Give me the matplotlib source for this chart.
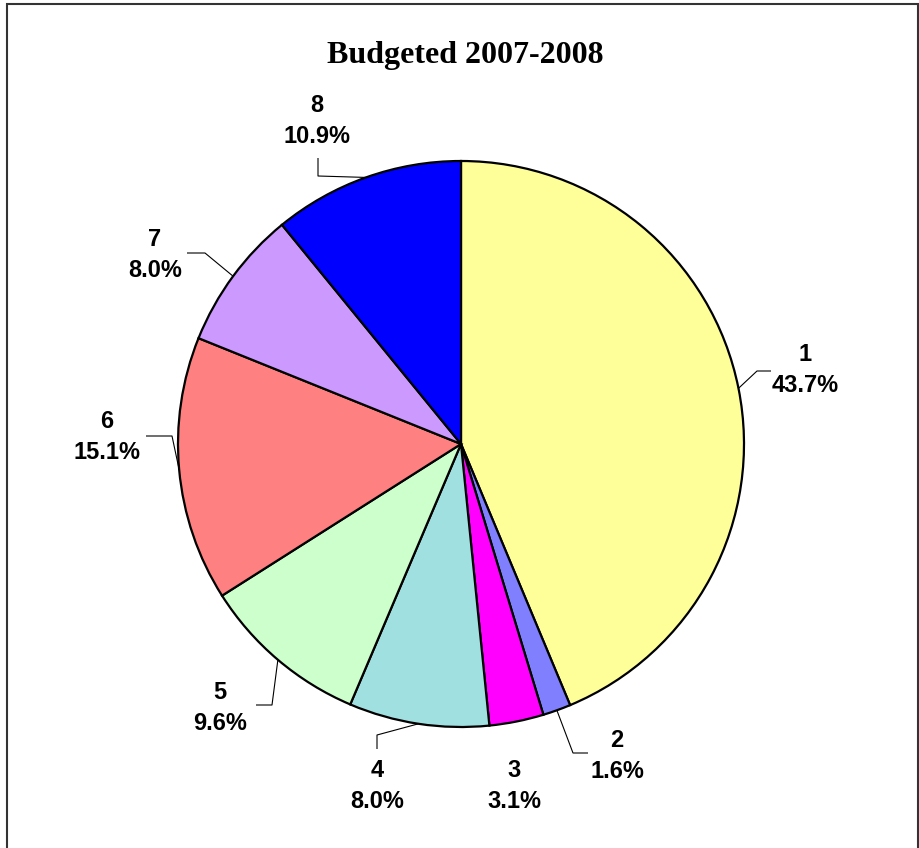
import numpy as np
import matplotlib
matplotlib.use("Agg")
import matplotlib.pyplot as plt
from matplotlib.patches import Rectangle

# data
labels = ["1", "2", "3", "4", "5", "6", "7", "8"]
shares = [43.7, 1.6, 3.1, 8.0, 9.6, 15.1, 8.0, 10.9]
colors = ["#FFFF99", "#8080FF", "#FF00FF", "#A0E0E0",
          "#CCFFCC", "#FF8080", "#CC99FF", "#0000FF"]
title = "Budgeted 2007-2008"

# layout (pixel positions in the 920x848 picture)
W, H = 920, 848
cx, cy, R = 461, 444, 283
text_pos = [(805, 370), (617, 756), (514, 786), (377, 786),
            (220, 708), (107, 437), (155, 255), (317, 121)]
# leader elbows and ends (None = no leader)
leaders = [((757, 371), (771, 371)),
           ((573, 753), (588, 753)),
           None,
           ((377, 735), (377, 749)),
           ((272, 705), (256, 705)),
           ((172, 436), (146, 436)),
           ((205, 253), (187, 253)),
           ((318, 176), (318, 158))]


def px(x, y):
    return (x - cx) / R, (cy - y) / R


fig = plt.figure(figsize=(W / 100, H / 100), dpi=100)
ax = fig.add_axes([0, 0, 1, 1])

wedges, _ = ax.pie(shares, colors=colors, startangle=90, counterclock=False,
                   radius=1.0, center=(0, 0),
                   wedgeprops=dict(edgecolor="black", linewidth=1.6))
ax.set_aspect("auto")
ax.set_xlim(-cx / R, (W - cx) / R)
ax.set_ylim((cy - H) / R, cy / R)
ax.axis("off")

for w, lab, val, tp, ld in zip(wedges, labels, shares, text_pos, leaders):
    ang = np.deg2rad((w.theta1 + w.theta2) / 2)
    ex, ey = np.cos(ang), np.sin(ang)
    if ld is not None:
        (bx, by), (dx, dy) = px(*ld[0]), px(*ld[1])
        ax.plot([ex, bx, dx], [ey, by, dy], color="black", lw=0.8,
                solid_capstyle="butt", zorder=1)
    tx, ty = px(*tp)
    ax.text(tx, ty, f"{lab}\n{val:.1f}%", ha="center", va="center",
            fontsize=17, fontweight="bold", family="Liberation Sans",
            linespacing=1.4)

fig.text(465 / W, 1 - 55 / H, title, ha="center", va="center",
         fontsize=23, fontweight="bold", family="Liberation Serif")

fig.patches.append(Rectangle((7 / W, -0.01), (911 / W), 1 - 4 / H + 0.01,
                             transform=fig.transFigure, fill=False,
                             edgecolor="#333333", linewidth=1.5))

fig.savefig("out.png", dpi=100)
